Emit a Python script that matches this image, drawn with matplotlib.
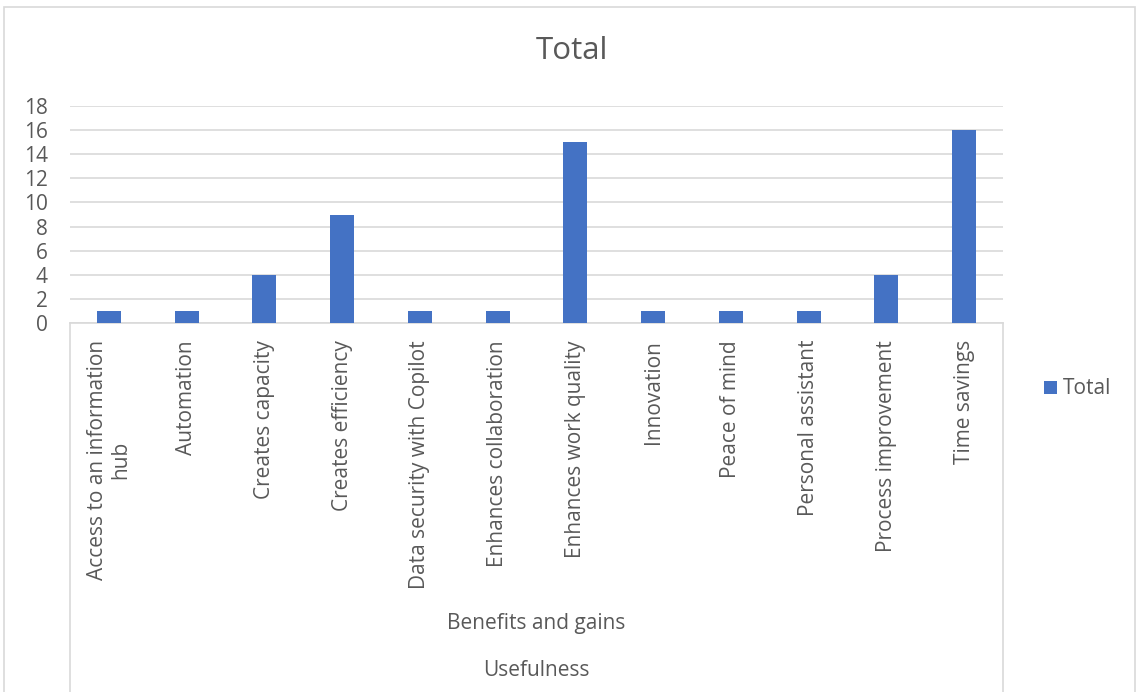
import matplotlib
matplotlib.use("Agg")
import matplotlib.pyplot as plt
from matplotlib.lines import Line2D
from matplotlib.patches import Rectangle
from matplotlib.transforms import blended_transform_factory

categories = [
    "Access to an information\nhub",
    "Automation",
    "Creates capacity",
    "Creates efficiency",
    "Data security with Copilot",
    "Enhances collaboration",
    "Enhances work quality",
    "Innovation",
    "Peace of mind",
    "Personal assistant",
    "Process improvement",
    "Time savings",
]
values = [1, 1, 4, 9, 1, 1, 15, 1, 1, 1, 4, 16]
y_ticks = [0, 2, 4, 6, 8, 10, 12, 14, 16, 18]
group_label = "Benefits and gains"
outer_label = "Usefulness"
series_name = "Total"
title = "Total"

plt.rcParams['font.family'] = ['Open Sans', 'DejaVu Sans']
TXT = '#595959'
GRID = '#d9d9d9'
BAR = '#4472C4'
FS = 15

W, H = 1136, 692
fig = plt.figure(figsize=(W / 100, H / 100), dpi=100)

def fx(px):
    return px / W

def fy(py):
    return 1 - py / H

# outer chart border
fig.add_artist(Rectangle((fx(4), fy(700)), fx(1131), fy(7) - fy(700),
                         transform=fig.transFigure, fill=False,
                         edgecolor=GRID, linewidth=1.2))

left, right, top, bottom = 70, 1003, 106, 323
ax = fig.add_axes([fx(left), fy(bottom), fx(right - left), fy(top) - fy(bottom)])
x = list(range(len(categories)))
ax.bar(x, values, width=0.31, color=BAR, zorder=3, label=series_name)
ax.set_xlim(-0.5, len(categories) - 0.5)
ax.set_ylim(0, 18)
ax.set_yticks(y_ticks)
ax.set_yticklabels([str(v) for v in y_ticks])
ax.yaxis.grid(True, color=GRID, linewidth=1.2, zorder=0)
ax.set_axisbelow(True)
for s in ['top', 'left', 'right']:
    ax.spines[s].set_visible(False)
ax.spines['bottom'].set_color(GRID)
ax.spines['bottom'].set_linewidth(1.2)
ax.tick_params(axis='y', length=0, pad=16, labelsize=FS, labelcolor=TXT)
ax.tick_params(axis='x', length=0, labelbottom=False)

# category labels
tr = blended_transform_factory(ax.transData, fig.transFigure)
for i, lab in enumerate(categories):
    ax.text(i, fy(340), lab, transform=tr, rotation=90, ha='center', va='top',
            multialignment='center', fontsize=FS, color=TXT,
            linespacing=1.15)

# multi-level axis lines
for px in (left, right):
    fig.add_artist(Line2D([fx(px), fx(px)], [fy(bottom), fy(700)],
                          transform=fig.transFigure, color=GRID, linewidth=1.2))

fig.text(fx((left + right) / 2), fy(624), group_label, ha='center', va='center',
         fontsize=FS, color=TXT)
fig.text(fx((left + right) / 2), fy(670), outer_label, ha='center', va='center',
         fontsize=FS, color=TXT)

fig.text(fx(572), fy(51), title, ha='center', va='center', fontsize=22.5, color=TXT)

# legend
fig.add_artist(Rectangle((fx(1044), fy(394)), fx(13), fy(381) - fy(394),
                         transform=fig.transFigure, facecolor=BAR, edgecolor='none'))
fig.text(fx(1063), fy(388), series_name, ha='left', va='center', fontsize=FS, color=TXT)

fig.savefig("out.png", dpi=100)
